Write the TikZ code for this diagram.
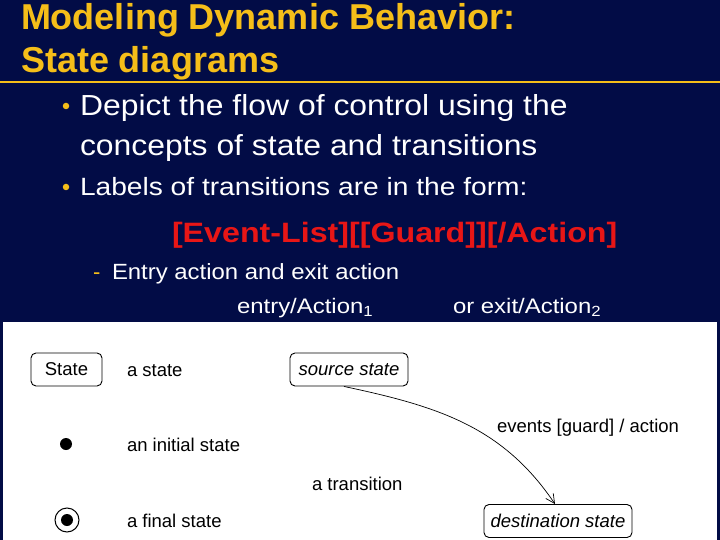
\documentclass[tikz,border=0pt]{standalone}
\usepackage{fontspec}
\setmainfont{Liberation Sans}
\usetikzlibrary{arrows.meta}
\definecolor{navy}{RGB}{2,12,70}
\definecolor{titley}{RGB}{245,190,25}
\definecolor{redtxt}{RGB}{232,22,22}
\newcommand{\wide}[2]{\scalebox{#1}[1]{#2}}
\begin{document}
\begin{tikzpicture}[x=1pt,y=-1pt,
  tx/.style={anchor=base west,inner sep=0pt,outer sep=0pt},
  title/.style={tx,text=titley,font=\bfseries\fontsize{36}{40}\selectfont},
  body/.style={tx,text=white},
  dia/.style={tx,text=black,font=\fontsize{18.5}{22}\selectfont},
  statebox/.style={draw=black,line width=0.9pt,rounded corners=5pt,minimum height=33pt,inner sep=0pt,font=\fontsize{18.5}{22}\selectfont},
  bul/.style={circle,fill=titley,inner sep=0pt,minimum size=6.5pt}]
\useasboundingbox (0,0) rectangle (720,540);
\fill[navy] (0,0) rectangle (720,540);
\fill[white] (3,322) rectangle (717,540);
\draw[titley,line width=2.2pt] (0,82) -- (720,82);
% title
\node[title] (t1) at (21,30) {Modeling Dynamic Behavior:};
\node[title] (t2) at (21,73) {State diagrams};
% bullets
\node[bul] (b1) at (66,106) {};
\node[body,font=\fontsize{29}{32}\selectfont] (l1) at (80,116) {\wide{1.1}{Depict the flow of control using the}};
\node[body,font=\fontsize{29}{32}\selectfont] (l2) at (80,156) {\wide{1.1}{concepts of state and transitions}};
\node[bul] (b2) at (66,187) {};
\node[body,font=\fontsize{25}{28}\selectfont] (l3) at (80,196) {\wide{1.126}{Labels of transitions are in the form:}};
\node[tx,text=redtxt,font=\bfseries\fontsize{28}{32}\selectfont] (red) at (172,242) {\wide{1.15}{[Event-List][[Guard]][/Action]}};
\node[tx,text=titley,font=\fontsize{22}{25}\selectfont] (dash) at (93,279) {-};
\node[body,font=\fontsize{22}{25}\selectfont] (l4) at (112,279) {\wide{1.087}{Entry action and exit action}};
\node[body,font=\fontsize{21}{24}\selectfont] (l5) at (237,313) {\wide{1.14}{entry/Action\textsubscript{1}}};
\node[body,font=\fontsize{21}{24}\selectfont] (l6) at (453,313) {\wide{1.14}{or exit/Action\textsubscript{2}}};
% diagram legend
\node[statebox,minimum width=71pt] (st) at (66.5,369.5) {State};
\node[dia] (as) at (127,376) {a state};
\node[circle,fill=black,inner sep=0pt,minimum size=12pt] (init) at (66,444) {};
\node[dia] (ais) at (127,451) {an initial state};
\node[circle,draw=black,line width=1pt,inner sep=0pt,minimum size=24pt] (fin) at (67,520) {};
\node[circle,fill=black,inner sep=0pt,minimum size=12pt] (fin2) at (67,520) {};
\node[dia] (afs) at (127,527) {a final state};
% transition
\node[statebox,minimum width=118pt,font=\itshape\fontsize{18.5}{22}\selectfont] (src) at (349,369.5) {source state};
\node[statebox,minimum width=148pt,font=\itshape\fontsize{18.5}{22}\selectfont] (dst) at (558,521) {destination state};
\draw[line width=0.7pt,-{Straight Barb[length=9pt,width=9pt]}] ([xshift=-5pt]src.south) to[out=-12,in=124] ([xshift=-3pt]dst.north);
\node[dia] (lab) at (497,432) {events [guard] / action};
\node[dia] (at) at (312,490) {a transition};
\end{tikzpicture}
\end{document}
